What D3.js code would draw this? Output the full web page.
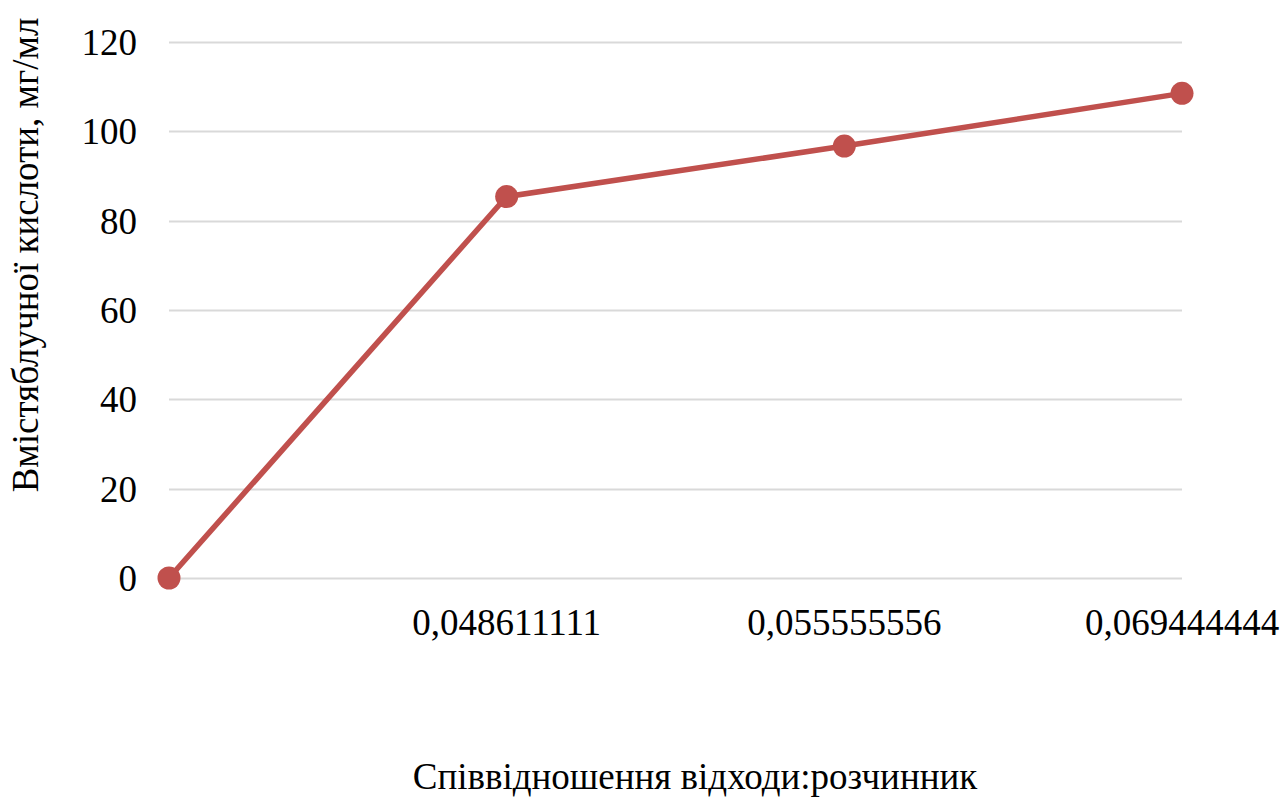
<!DOCTYPE html>
<html>
<head>
<meta charset="utf-8">
<script src="https://cdn.jsdelivr.net/npm/d3@7"></script>
<style>
  html, body { margin: 0; padding: 0; background: #ffffff; }
  svg { display: block; font-family: "Liberation Serif", "Times New Roman", serif; }
</style>
</head>
<body>
<svg id="chart" width="1283" height="800"></svg>
<script>
// Ratio of waste to solvent (category labels) and lemon-acid content, mg/ml
const categories = ["", "0,048611111", "0,055555556", "0,069444444"];
const values = [0, 85.4, 96.7, 108.5];
const yTicks = [0, 20, 40, 60, 80, 100, 120];

const xTitle = "Співвідношення відходи:розчинник";
const yTitle = "Вмістяблучної кислоти, мг/мл";

const svg = d3.select("#chart");
const margin = { left: 169, right: 101, top: 42, bottom: 222 };
const W = 1283, H = 800;
const fontSize = 37;

const x = d3.scalePoint()
  .domain(categories.map((c, i) => i))
  .range([margin.left, W - margin.right]);

const y = d3.scaleLinear()
  .domain([0, 120])
  .range([H - margin.bottom, margin.top]);

// Horizontal gridlines
svg.append("g")
  .selectAll("line")
  .data(yTicks)
  .join("line")
  .attr("x1", margin.left)
  .attr("x2", W - margin.right)
  .attr("y1", d => Math.round(y(d)) + 0.5)
  .attr("y2", d => Math.round(y(d)) + 0.5)
  .attr("stroke", "#d9d9d9")
  .attr("stroke-width", 2);

// Y tick labels
svg.append("g")
  .selectAll("text")
  .data(yTicks)
  .join("text")
  .attr("x", 137)
  .attr("y", d => y(d))
  .attr("dy", "0.35em")
  .attr("text-anchor", "end")
  .attr("font-size", fontSize)
  .attr("fill", "#000")
  .text(d => d);

// X tick labels
svg.append("g")
  .selectAll("text")
  .data(categories)
  .join("text")
  .attr("x", (d, i) => x(i))
  .attr("y", 635)
  .attr("text-anchor", "middle")
  .attr("font-size", fontSize)
  .attr("fill", "#000")
  .text(d => d);

// Series line
const line = d3.line()
  .x((d, i) => x(i))
  .y(d => y(d));

svg.append("path")
  .datum(values)
  .attr("d", line)
  .attr("fill", "none")
  .attr("stroke", "#c0504d")
  .attr("stroke-width", 5.5)
  .attr("stroke-linejoin", "round")
  .attr("stroke-linecap", "round");

// Markers
svg.append("g")
  .selectAll("circle")
  .data(values)
  .join("circle")
  .attr("cx", (d, i) => x(i))
  .attr("cy", d => y(d))
  .attr("r", 11.5)
  .attr("fill", "#c0504d");

// Axis titles
svg.append("text")
  .attr("x", 695)
  .attr("y", 789)
  .attr("text-anchor", "middle")
  .attr("font-size", fontSize)
  .attr("fill", "#000")
  .text(xTitle);

svg.append("text")
  .attr("transform", "translate(38,255) rotate(-90)")
  .attr("text-anchor", "middle")
  .attr("font-size", fontSize)
  .attr("fill", "#000")
  .text(yTitle);
</script>
</body>
</html>
